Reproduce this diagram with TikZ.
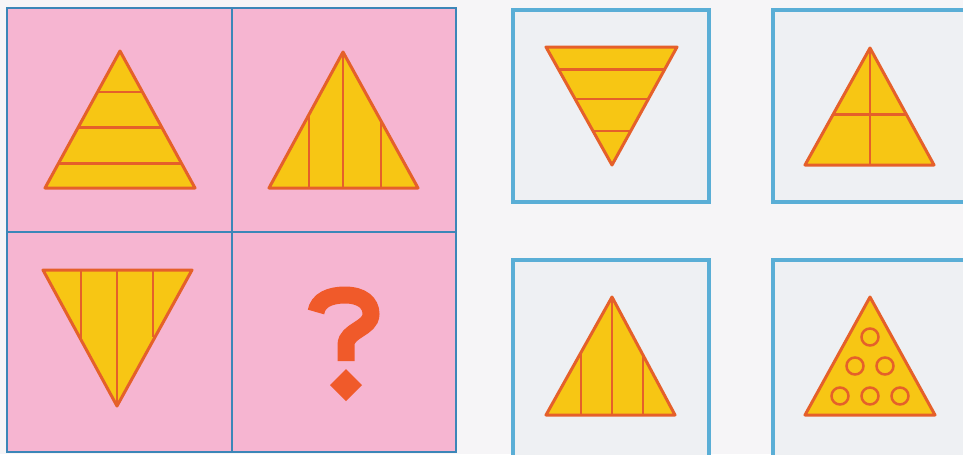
\documentclass[tikz,border=0pt]{standalone}
\usetikzlibrary{calc}
\definecolor{pinkbg}{HTML}{F6B5D1}
\definecolor{gridblue}{HTML}{3C86B8}
\definecolor{boxblue}{HTML}{5AAED6}
\definecolor{boxbg}{HTML}{EEF0F3}
\definecolor{pagebg}{HTML}{F6F5F7}
\definecolor{triyellow}{HTML}{F7C614}
\definecolor{triedge}{HTML}{E5602A}
\definecolor{qred}{HTML}{F05A2A}
\tikzset{
  tri/.style={fill=triyellow, draw=triedge, line width=0.06cm, line join=round},
  seg/.style={draw=triedge, line width=0.05cm},
  ring/.style={draw=triedge, line width=0.05cm},
  gridline/.style={draw=gridblue, line width=0.035cm},
  choicebox/.style={fill=boxbg, draw=boxblue, line width=0.07cm},
}
\begin{document}
\begin{tikzpicture}[x=0.02cm, y=-0.02cm]
\useasboundingbox (0,0) rectangle (963,454);
\clip (0,0) rectangle (963,454);
\fill[pagebg] (0,0) rectangle (963,454);
% left grid
\fill[pinkbg] (7,8) rectangle (456,452);
\draw[gridline] (7,8) rectangle (456,452);
\draw[gridline] (232,8) -- (232,452);
\draw[gridline] (7,232) -- (456,232);
% right boxes
\draw[choicebox] (513,10) rectangle (709,202);
\draw[choicebox] (773,10) rectangle (975,202);
\draw[choicebox] (513,260) rectangle (709,470);
\draw[choicebox] (773,260) rectangle (975,470);

% triangle 1: upright, horizontal stripes
\coordinate (a1) at (120,51);
\coordinate (b1) at (45,188);
\coordinate (c1) at (195,188);
\draw[tri] (a1) -- (b1) -- (c1) -- cycle;
\foreach \t in {0.3,0.56,0.82}
  \draw[seg] ($(a1)!\t!(b1)$) -- ($(a1)!\t!(c1)$);

% triangle 2: upright, vertical stripes
\coordinate (a2) at (343,52);
\coordinate (b2) at (269,188);
\coordinate (c2) at (418,188);
\draw[tri] (a2) -- (b2) -- (c2) -- cycle;
\draw[seg] (a2) -- (343,188);
\draw[seg] (309,115) -- (309,188);
\draw[seg] (381,122) -- (381,188);

% triangle 3: inverted, vertical stripes
\coordinate (a3) at (117,406);
\coordinate (b3) at (43,270);
\coordinate (c3) at (192,270);
\draw[tri] (b3) -- (c3) -- (a3) -- cycle;
\draw[seg] (117,270) -- (a3);
\draw[seg] (81,270) -- (81,339);
\draw[seg] (153,270) -- (153,337);

% question mark
\draw[qred, line width=0.34cm, line cap=butt]
  (316,312) .. controls (318,300) and (330,295) .. (345,295)
  .. controls (362,295) and (371,303) .. (371,314)
  .. controls (371,329) and (346,330) .. (346,345) -- (346,361);
\fill[qred] (346,369) -- (362,385) -- (346,401) -- (330,385) -- cycle;

% choice 1: inverted, horizontal stripes
\coordinate (a4) at (612,165);
\coordinate (b4) at (546,47);
\coordinate (c4) at (677,47);
\draw[tri] (b4) -- (c4) -- (a4) -- cycle;
\foreach \t in {0.19,0.44,0.71}
  \draw[seg] ($(b4)!\t!(a4)$) -- ($(c4)!\t!(a4)$);

% choice 2: upright, cross
\coordinate (a5) at (870,48);
\coordinate (b5) at (805,165);
\coordinate (c5) at (934,165);
\draw[tri] (a5) -- (b5) -- (c5) -- cycle;
\draw[seg] (a5) -- (870,165);
\draw[seg] ($(a5)!0.57!(b5)$) -- ($(a5)!0.57!(c5)$);

% choice 3: upright, vertical stripes
\coordinate (a6) at (612,297);
\coordinate (b6) at (546,415);
\coordinate (c6) at (675,415);
\draw[tri] (a6) -- (b6) -- (c6) -- cycle;
\draw[seg] (a6) -- (612,415);
\draw[seg] (581,353) -- (581,415);
\draw[seg] (643,354) -- (643,415);

% choice 4: upright, rings
\coordinate (a7) at (870,297);
\coordinate (b7) at (805,415);
\coordinate (c7) at (935,415);
\draw[tri] (a7) -- (b7) -- (c7) -- cycle;
\foreach \p in {(870,337),(855,366),(885,366),(840,396),(870,396),(900,396)}
  \draw[ring] \p circle[radius=8.5];
\end{tikzpicture}
\end{document}
